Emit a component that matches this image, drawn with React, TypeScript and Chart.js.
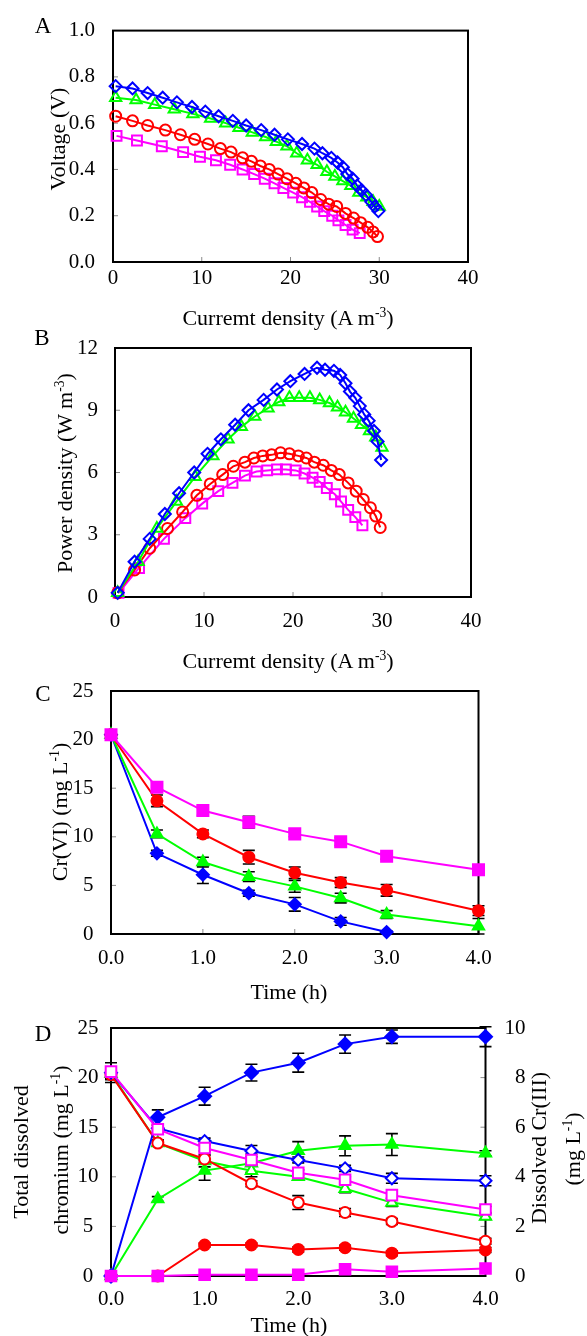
import React, { useEffect, useRef } from 'react';
import { Chart, registerables } from 'chart.js';
Chart.register(...registerables);

const FONT = '"Liberation Serif", "Times New Roman", serif';
const BLUE = '#0000FF';
const GREEN = '#00FF00';
const RED = '#FF0000';
const MAGENTA = '#FF00FF';

// ---------- Panel A / B : polarization & power curves ----------
const curBlue = [0.3, 2.2, 3.9, 5.6, 7.2, 8.9, 10.4, 11.9, 13.5, 15.0, 16.7, 18.2, 19.7, 21.3, 22.7, 23.6, 24.6, 25.3, 25.9, 26.4, 27.0, 27.5, 28.0, 28.5, 29.1, 29.5, 29.9];
const voltBlue = [0.76, 0.75, 0.73, 0.71, 0.69, 0.67, 0.65, 0.63, 0.61, 0.59, 0.57, 0.55, 0.53, 0.51, 0.49, 0.47, 0.45, 0.43, 0.41, 0.38, 0.36, 0.33, 0.31, 0.29, 0.26, 0.24, 0.22];
const powBlue = [0.2, 1.7, 2.8, 4.0, 5.0, 6.0, 6.9, 7.6, 8.3, 9.0, 9.5, 10.0, 10.4, 10.75, 11.05, 10.95, 10.9, 10.7, 10.3, 9.9, 9.6, 9.2, 8.8, 8.5, 8.0, 7.5, 6.6];

const curGreen = [0.3, 2.6, 4.7, 6.9, 9.0, 11.0, 12.7, 14.2, 15.7, 17.2, 18.4, 19.6, 20.7, 21.9, 23.0, 24.1, 25.0, 25.9, 26.8, 27.7, 28.6, 29.3, 30.0];
const voltGreen = [0.71, 0.70, 0.68, 0.66, 0.64, 0.62, 0.60, 0.58, 0.56, 0.54, 0.52, 0.50, 0.47, 0.44, 0.42, 0.39, 0.37, 0.35, 0.33, 0.30, 0.28, 0.26, 0.24];
const powGreen = [0.2, 1.7, 3.3, 4.6, 5.8, 6.8, 7.6, 8.2, 8.7, 9.1, 9.4, 9.6, 9.6, 9.6, 9.5, 9.35, 9.15, 8.9, 8.6, 8.3, 8.0, 7.7, 7.2];

const curRed = [0.3, 2.2, 3.9, 5.9, 7.6, 9.2, 10.7, 12.1, 13.3, 14.6, 15.6, 16.6, 17.6, 18.6, 19.6, 20.6, 21.5, 22.4, 23.4, 24.3, 25.2, 26.2, 27.1, 27.9, 28.7, 29.3, 29.8];
const voltRed = [0.63, 0.61, 0.59, 0.57, 0.55, 0.53, 0.51, 0.49, 0.475, 0.45, 0.435, 0.415, 0.40, 0.38, 0.36, 0.34, 0.32, 0.30, 0.27, 0.25, 0.24, 0.21, 0.19, 0.17, 0.15, 0.13, 0.11];
const powRed = [0.2, 1.3, 2.35, 3.3, 4.1, 4.9, 5.45, 5.9, 6.3, 6.5, 6.7, 6.8, 6.85, 6.95, 6.9, 6.8, 6.7, 6.5, 6.35, 6.1, 5.9, 5.5, 5.1, 4.7, 4.3, 3.9, 3.35];

const curMag = [0.4, 2.7, 5.5, 7.9, 9.8, 11.6, 13.2, 14.6, 15.9, 17.1, 18.2, 19.2, 20.3, 21.3, 22.2, 23.0, 23.8, 24.7, 25.4, 26.2, 27.0, 27.8];
const voltMag = [0.545, 0.525, 0.50, 0.475, 0.455, 0.44, 0.42, 0.40, 0.38, 0.36, 0.34, 0.32, 0.30, 0.28, 0.26, 0.24, 0.22, 0.20, 0.18, 0.16, 0.14, 0.125];
const powMag = [0.2, 1.4, 2.8, 3.8, 4.5, 5.1, 5.5, 5.85, 6.05, 6.1, 6.15, 6.15, 6.1, 5.95, 5.75, 5.55, 5.25, 4.95, 4.6, 4.2, 3.85, 3.45];

// ---------- Panel C : Cr(VI) ----------
const timeC = [0, 0.5, 1, 1.5, 2, 2.5, 3, 4];
const cMag = [20.5, 15.1, 12.7, 11.5, 10.3, 9.5, 8.0, 6.6];
const cMagErr = [0.5, 0.5, 0.5, 0.6, 0.3, 0.4, 0.3, 0.5];
const cRed = [20.5, 13.7, 10.3, 7.9, 6.3, 5.3, 4.5, 2.4];
const cRedErr = [0.3, 0.6, 0.4, 0.7, 0.6, 0.5, 0.6, 0.5];
const cGreen = [20.5, 10.3, 7.4, 5.9, 4.9, 3.7, 2.0, 0.8];
const cGreenErr = [0.3, 0.4, 0.5, 0.5, 0.6, 0.5, 0.4, 0.8];
const cBlue = [20.5, 8.3, 6.1, 4.2, 3.05, 1.3, 0.2];
const cBlueErr = [0.3, 0.3, 0.9, 0.3, 0.7, 0.4, 0.1];

// ---------- Panel D : total dissolved Cr (left) and Cr(III) (right) ----------
const timeD = [0, 0.5, 1, 1.5, 2, 2.5, 3, 4];
const dMagTot = [20.6, 14.8, 12.9, 11.7, 10.4, 9.7, 8.15, 6.7];
const dMagTotErr = [0.5, 0.4, 0.3, 0.3, 0.3, 0.3, 0.3, 0.3];
const dBlueTot = [20.5, 14.9, 13.6, 12.6, 11.7, 10.85, 9.85, 9.6];
const dBlueTotErr = [1.0, 0.3, 0.3, 0.55, 0.3, 0.3, 0.5, 0.5];
const dGreenTot = [20.4, 13.4, 11.6, 10.6, 10.0, 8.8, 7.4, 6.0];
const dGreenTotErr = [0.5, 0.3, 0.6, 0.6, 0.3, 0.4, 0.4, 0.3];
const dRedTot = [20.3, 13.4, 11.8, 9.3, 7.4, 6.4, 5.5, 3.5];
const dRedTotErr = [0.5, 0.3, 0.4, 0.3, 0.7, 0.4, 0.3, 0.3];
const dBlueIII = [0, 6.4, 7.25, 8.2, 8.6, 9.35, 9.65, 9.65];
const dBlueIIIErr = [0, 0.3, 0.36, 0.34, 0.38, 0.37, 0.27, 0.4];
const dGreenIII = [0, 3.1, 4.25, 4.55, 5.05, 5.25, 5.3, 4.95];
const dGreenIIIErr = [0, 0.1, 0.39, 0.37, 0.37, 0.4, 0.44, 0.1];
const dRedIII = [0, 0, 1.25, 1.25, 1.07, 1.14, 0.92, 1.05];
const dRedIIIErr = [0, 0, 0.08, 0.08, 0.1, 0.1, 0.1, 0.1];
const dMagIII = [0, 0, 0.05, 0.05, 0.05, 0.27, 0.17, 0.3];

const pts = (xs: number[], ys: number[]) => ys.map((y, i) => ({ x: xs[i], y }));

function series(xs: number[], ys: number[], color: string, style: string, radius: number, fill: string, extra: any = {}) {
  return {
    data: pts(xs, ys),
    borderColor: color,
    backgroundColor: color,
    pointStyle: style,
    pointRadius: radius,
    pointBorderColor: color,
    pointBackgroundColor: fill,
    pointBorderWidth: 2,
    borderWidth: 2,
    clip: false,
    tension: 0,
    ...extra,
  };
}

const framePlugin = {
  id: 'framePlugin',
  beforeDatasetsDraw(chart: any) {
    const { ctx, chartArea: a } = chart;
    ctx.save();
    // inward tick marks
    ctx.strokeStyle = '#8a8a8a';
    ctx.lineWidth = 1;
    Object.values(chart.scales).forEach((s: any) => {
      s.ticks.forEach((t: any) => {
        const p = s.getPixelForValue(t.value);
        ctx.beginPath();
        if (s.isHorizontal()) {
          if (p < a.left + 2 || p > a.right - 2) return;
          ctx.moveTo(p, a.bottom);
          ctx.lineTo(p, a.bottom - 5);
        } else {
          if (p < a.top + 2 || p > a.bottom - 2) return;
          if (s.position === 'right') {
            ctx.moveTo(a.right, p);
            ctx.lineTo(a.right - 5, p);
          } else {
            ctx.moveTo(a.left, p);
            ctx.lineTo(a.left + 5, p);
          }
        }
        ctx.stroke();
      });
    });
    // frame
    ctx.strokeStyle = '#000';
    ctx.lineWidth = 2;
    ctx.strokeRect(a.left, a.top, a.right - a.left, a.bottom - a.top);
    // error bars
    ctx.lineWidth = 1.6;
    chart.data.datasets.forEach((ds: any, i: number) => {
      if (!ds.errors) return;
      const meta = chart.getDatasetMeta(i);
      const xs = chart.scales[meta.xAxisID];
      const ys = chart.scales[meta.yAxisID];
      ds.data.forEach((p: any, j: number) => {
        const e = ds.errors[j];
        if (!e) return;
        const x = xs.getPixelForValue(p.x);
        const y1 = ys.getPixelForValue(p.y + e);
        const y2 = ys.getPixelForValue(p.y - e);
        ctx.beginPath();
        ctx.moveTo(x, y1);
        ctx.lineTo(x, y2);
        ctx.moveTo(x - 6, y1);
        ctx.lineTo(x + 6, y1);
        ctx.moveTo(x - 6, y2);
        ctx.lineTo(x + 6, y2);
        ctx.stroke();
      });
    });
    ctx.restore();
  },
};

const tickFont = { family: FONT, size: 21 };

function xScale(min: number, max: number, step: number, digits: number, pad: number) {
  return {
    type: 'linear',
    position: 'bottom',
    min,
    max,
    ticks: {
      stepSize: step,
      callback: (v: any) => Number(v).toFixed(digits),
      font: tickFont,
      color: '#000',
      padding: pad,
      maxRotation: 0,
      autoSkip: false,
    },
    grid: { display: false, drawTicks: false },
    border: { display: false },
    afterFit: (s: any) => {
      s.height = 30;
    },
  };
}

function yScale(min: number, max: number, step: number, digits: number, pad: number, position = 'left', crossAlign = 'near', width = 60) {
  return {
    type: 'linear',
    position,
    min,
    max,
    ticks: {
      stepSize: step,
      callback: (v: any) => Number(v).toFixed(digits),
      font: tickFont,
      color: '#000',
      padding: pad,
      crossAlign,
    },
    grid: { display: false, drawTicks: false },
    border: { display: false },
    afterFit: (s: any) => {
      s.width = width;
    },
  };
}

function baseOptions(padding: any, scales: any) {
  return {
    responsive: false,
    animation: false,
    devicePixelRatio: 1,
    events: [],
    layout: { padding },
    plugins: { legend: { display: false }, tooltip: { enabled: false } },
    scales,
  };
}

const NONE = 'rgba(0,0,0,0)';

const configA = () => ({
  type: 'line',
  data: {
    datasets: [
      series(curBlue, voltBlue, BLUE, 'rectRot', 6, NONE),
      series(curGreen, voltGreen, GREEN, 'triangle', 6.5, NONE),
      series(curRed, voltRed, RED, 'circle', 5.5, NONE),
      series(curMag, voltMag, MAGENTA, 'rect', 7, NONE),
    ],
  },
  options: baseOptions({ top: 20, bottom: 8, left: 53, right: 119 }, {
    x: xScale(0, 40, 10, 0, 4),
    y: yScale(0, 1, 0.2, 1, 18),
  }),
  plugins: [framePlugin],
});

const configB = () => ({
  type: 'line',
  data: {
    datasets: [
      series(curBlue, powBlue, BLUE, 'rectRot', 6, NONE),
      series(curGreen, powGreen, GREEN, 'triangle', 6.5, NONE),
      series(curRed, powRed, RED, 'circle', 5.5, NONE),
      series(curMag, powMag, MAGENTA, 'rect', 7, NONE),
    ],
  },
  options: baseOptions({ top: 38, bottom: 13, left: 55, right: 116 }, {
    x: xScale(0, 40, 10, 0, 12),
    y: yScale(0, 12, 3, 0, 17),
  }),
  plugins: [framePlugin],
});

const configC = () => ({
  type: 'line',
  data: {
    datasets: [
      series(timeC, cMag, MAGENTA, 'rect', 7.8, MAGENTA, { errors: cMagErr }),
      series(timeC, cRed, RED, 'circle', 5.5, RED, { errors: cRedErr }),
      series(timeC, cGreen, GREEN, 'triangle', 6.5, GREEN, { errors: cGreenErr }),
      series(timeC, cBlue, BLUE, 'rectRot', 6, BLUE, { errors: cBlueErr }),
    ],
  },
  options: baseOptions({ top: 31, bottom: 16, left: 51, right: 108.5 }, {
    x: xScale(0, 4, 1, 1, 12),
    y: yScale(0, 25, 5, 0, 17.5),
  }),
  plugins: [framePlugin],
});

const configD = () => ({
  type: 'line',
  data: {
    datasets: [
      series(timeD, dMagTot, MAGENTA, 'rect', 7.5, '#FFFFFF', { errors: dMagTotErr, yAxisID: 'y' }),
      series(timeD, dMagIII, MAGENTA, 'rect', 7.5, MAGENTA, { yAxisID: 'y1' }),
      series(timeD, dBlueTot, BLUE, 'rectRot', 6, '#FFFFFF', { errors: dBlueTotErr, yAxisID: 'y' }),
      series(timeD, dBlueIII, BLUE, 'rectRot', 6.5, BLUE, { errors: dBlueIIIErr, yAxisID: 'y1' }),
      series(timeD, dRedTot, RED, 'circle', 5.5, '#FFFFFF', { errors: dRedTotErr, yAxisID: 'y' }),
      series(timeD, dRedIII, RED, 'circle', 5.5, RED, { errors: dRedIIIErr, yAxisID: 'y1' }),
      series(timeD, dGreenTot, GREEN, 'triangle', 6.5, '#FFFFFF', { errors: dGreenTotErr, yAxisID: 'y' }),
      series(timeD, dGreenIII, GREEN, 'triangle', 6.5, GREEN, { errors: dGreenIIIErr, yAxisID: 'y1' }),
    ],
  },
  options: baseOptions({ top: 28, bottom: 30, left: 51, right: 61.5 }, {
    x: xScale(0, 4, 1, 1, 11),
    y: yScale(0, 25, 5, 0, 12.5, 'left', 'center', 60),
    y1: yScale(0, 10, 2, 0, 5, 'right', 'far', 40),
  }),
  plugins: [framePlugin],
});

function ChartCanvas({ top, height, make }: { top: number; height: number; make: () => any }) {
  const ref = useRef<HTMLCanvasElement | null>(null);
  useEffect(() => {
    const chart = new Chart(ref.current as HTMLCanvasElement, make());
    return () => chart.destroy();
  }, []);
  return (
    <canvas
      ref={ref}
      width={587}
      height={height}
      style={{ position: 'absolute', left: 0, top, width: 587, height, display: 'block' }}
    />
  );
}

const supStyle: React.CSSProperties = { fontSize: '62%', position: 'relative', top: '-0.6em', verticalAlign: 'baseline' };

function Label({ x, y, rotate = false, size = 22, children }: { x: number; y: number; rotate?: boolean; size?: number; children: React.ReactNode }) {
  return (
    <div
      style={{
        position: 'absolute',
        left: x,
        top: y,
        transform: `translate(-50%, -50%)${rotate ? ' rotate(-90deg)' : ''}`,
        whiteSpace: 'nowrap',
        fontFamily: FONT,
        fontSize: size,
        lineHeight: 1,
        color: '#000',
      }}
    >
      {children}
    </div>
  );
}

export default function App() {
  return (
    <div style={{ position: 'absolute', left: 0, top: 0, width: 587, height: 1336, background: '#fff', overflow: 'hidden' }}>
      <ChartCanvas top={0} height={300} make={configA} />
      <ChartCanvas top={310} height={330} make={configB} />
      <ChartCanvas top={660} height={320} make={configC} />
      <ChartCanvas top={1000} height={336} make={configD} />

      <Label x={43} y={25} size={23}>A</Label>
      <Label x={58} y={139} rotate>Voltage (V)</Label>
      <Label x={288} y={318}>Curremt density (A m<span style={supStyle}>-3</span>)</Label>

      <Label x={42} y={337} size={23}>B</Label>
      <Label x={65} y={473} rotate>Power density (W m<span style={supStyle}>-3</span>)</Label>
      <Label x={288} y={661}>Curremt density (A m<span style={supStyle}>-3</span>)</Label>

      <Label x={43} y={693} size={23}>C</Label>
      <Label x={60} y={812} rotate>Cr(VI) (mg L<span style={supStyle}>-1</span>)</Label>
      <Label x={289} y={992}>Time (h)</Label>

      <Label x={43} y={1033} size={23}>D</Label>
      <Label x={21} y={1152} rotate>Total dissolved</Label>
      <Label x={61} y={1150} rotate>chromium (mg L<span style={supStyle}>-1</span>)</Label>
      <Label x={539} y={1148} rotate>Dissolved Cr(III)</Label>
      <Label x={573} y={1149} rotate>(mg L<span style={supStyle}>-1</span>)</Label>
      <Label x={289} y={1325}>Time (h)</Label>
    </div>
  );
}
